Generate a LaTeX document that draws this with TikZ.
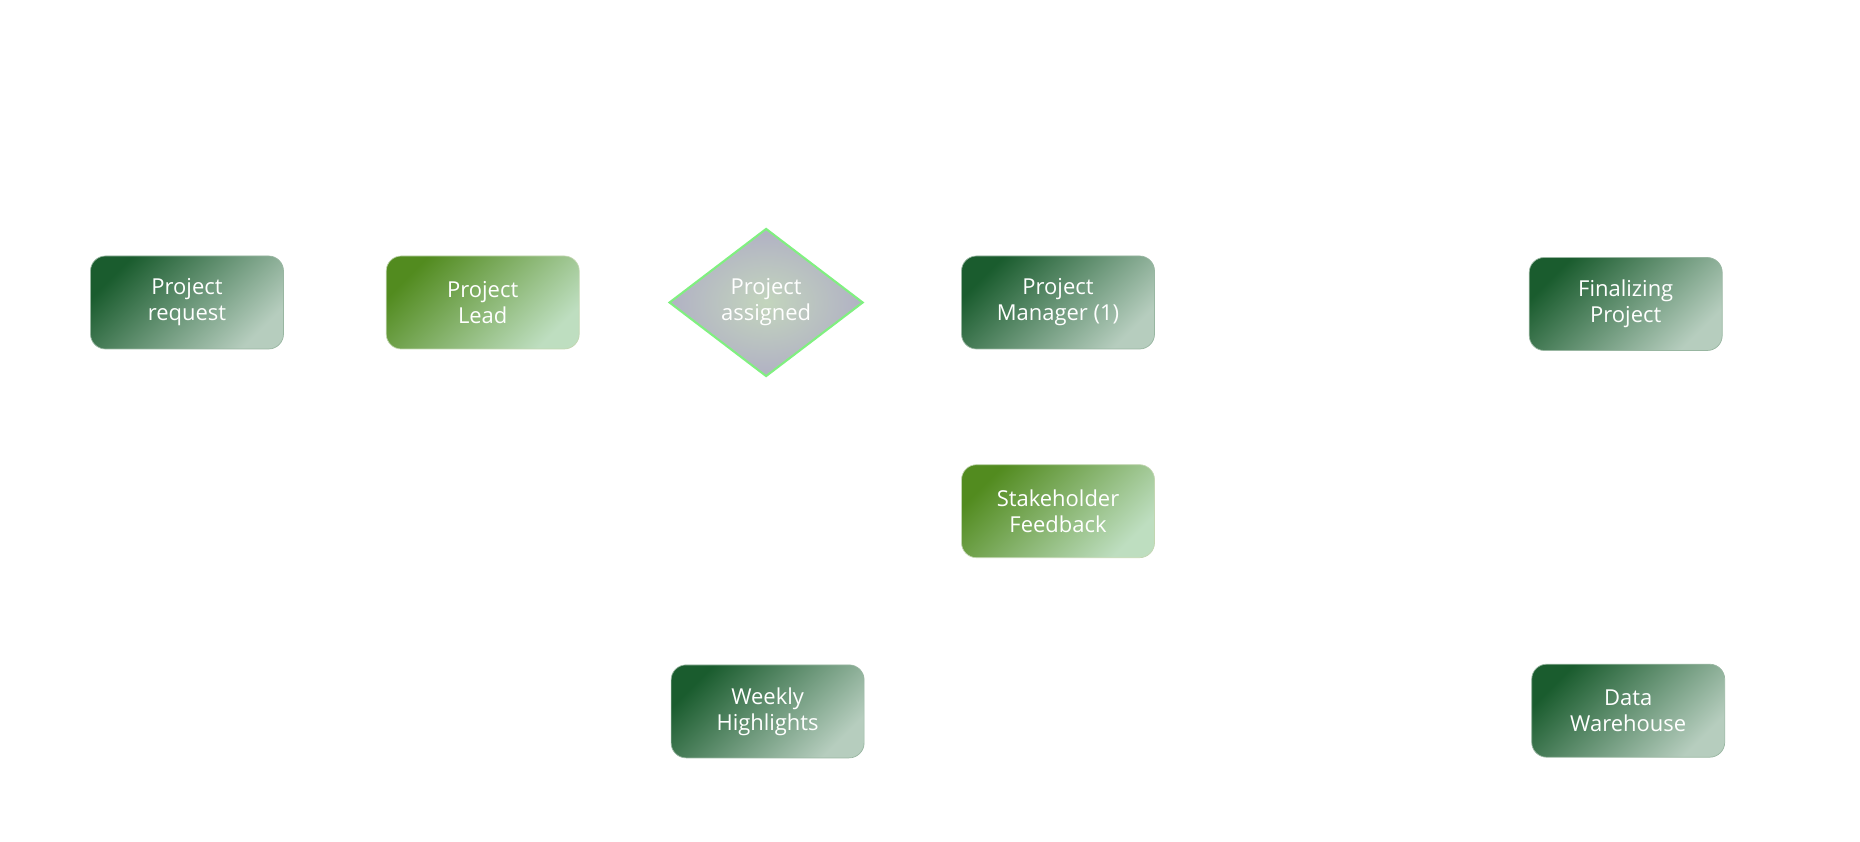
\documentclass[tikz,border=0pt]{standalone}
\usepackage{fontspec}
\setmainfont{Open Sans}
\usetikzlibrary{positioning, shapes.geometric}
\definecolor{deepgreen}{HTML}{1A5C2E}
\definecolor{palegreen}{HTML}{B6CDBE}
\definecolor{leafgreen}{HTML}{528B1F}
\definecolor{mintgreen}{HTML}{BEDEC0}
\definecolor{sagecore}{HTML}{C3D5BD}
\definecolor{lavgray}{HTML}{B1B1C4}
\definecolor{limeedge}{HTML}{80F080}
\tikzset{
    box/.style={rectangle, rounded corners=0.3cm, minimum width=3.86cm, minimum height=1.86cm,
        text=white, align=center, font=\fontsize{12.5}{14.8}\selectfont, thin},
    task/.style={box, draw=deepgreen!45!white, top color=deepgreen, bottom color=palegreen, shading angle=45},
    taskalt/.style={box, draw=leafgreen!35!white, top color=leafgreen, bottom color=mintgreen, shading angle=45},
    decision/.style={diamond, draw=limeedge, line width=1.2pt, inner color=sagecore, outer color=lavgray,
        minimum width=3.88cm, minimum height=2.96cm, inner sep=0pt,
        text=white, align=center, font=\fontsize{12.5}{14.8}\selectfont}
}

\begin{document}
\begin{tikzpicture}
    \useasboundingbox (0,0) rectangle (37.2,-16.84);

    % top row
    \node[task] (request) at (3.74,-6.05) {Project\\request};
    \node[taskalt] (lead) [right=2.04cm of request] {Project\\Lead};
    \node[decision] (assigned) [right=1.74cm of lead, xshift=0.03cm] {Project\\assigned};
    \node[task] (manager) [right=1.94cm of assigned] {Project\\Manager (1)};
    \node[task] (finalizing) [right=7.48cm of manager, yshift=-0.03cm] {Finalizing\\Project};

    % lower rows
    \node[taskalt] (feedback) [below=2.3cm of manager] {Stakeholder\\Feedback};
    \node[task] (weekly) [below=5.74cm of assigned, xshift=0.03cm] {Weekly\\Highlights};
    \node[task] (warehouse) [below=6.26cm of finalizing, xshift=0.05cm] {Data\\Warehouse};

\end{tikzpicture}
\end{document}
